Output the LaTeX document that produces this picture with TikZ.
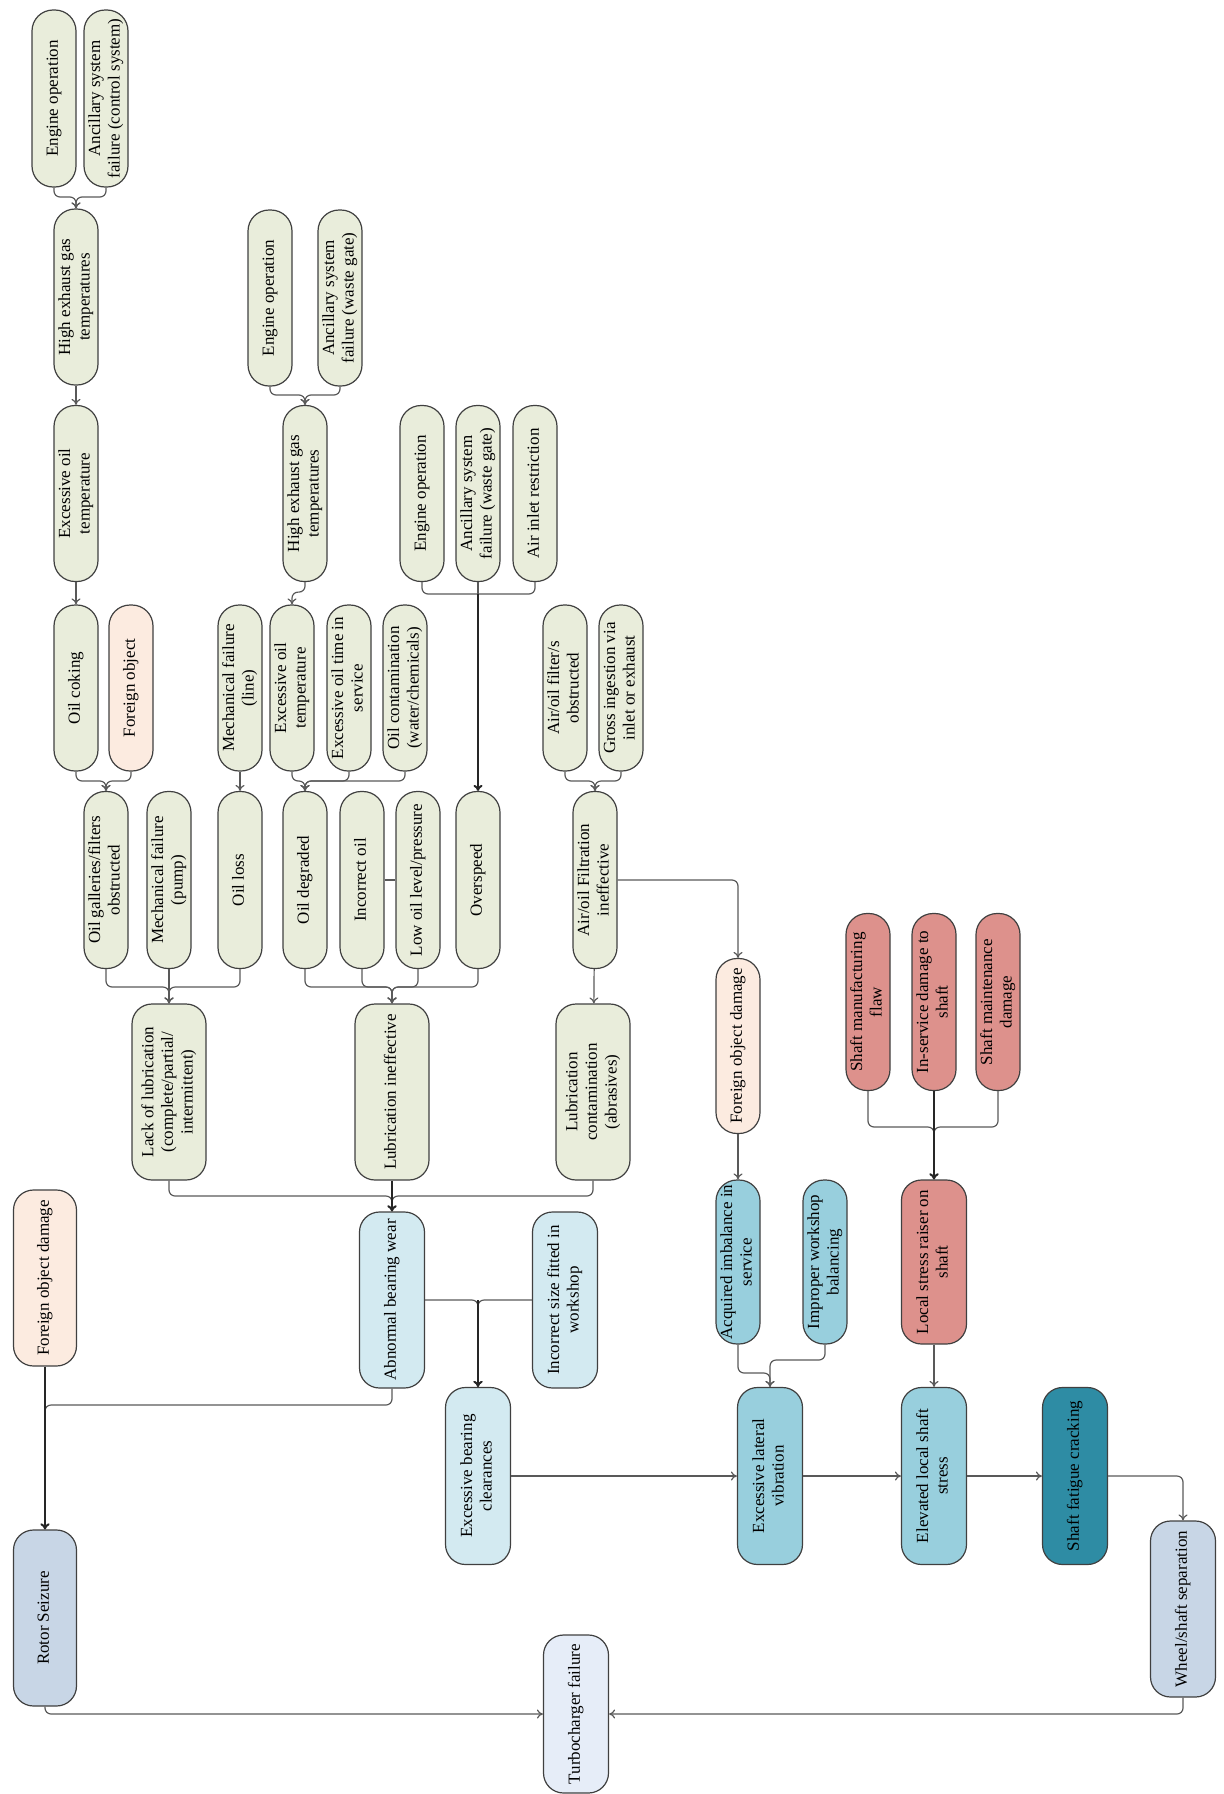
\documentclass[tikz,border=0pt]{standalone}
\usepackage{fontspec}
\setmainfont{Liberation Serif}
\usepackage{graphicx}
\usetikzlibrary{arrows.meta,calc}
\definecolor{cgreen}{HTML}{E9EDDB}
\definecolor{cpeach}{HTML}{FCEBE0}
\definecolor{clblue}{HTML}{D3EAF1}
\definecolor{cmblue}{HTML}{98CFDD}
\definecolor{cred}{HTML}{DD918C}
\definecolor{cteal}{HTML}{2E8CA4}
\definecolor{cgblue}{HTML}{C8D6E6}
\definecolor{cpale}{HTML}{E6EDF8}
\newcommand{\vtxt}[1]{\rotatebox{90}{\begin{tabular}{@{}c@{}}#1\end{tabular}}}
\tikzset{
  bx/.style={draw=black!75, line width=0.6pt, inner sep=0pt, font=\fontsize{8.5}{9.8}\selectfont},
  nar/.style={bx, rounded corners=10.5pt, minimum width=22pt},
  wid/.style={bx, rounded corners=10pt, minimum width=32.5pt},
  lub/.style={bx, rounded corners=10pt, minimum width=37pt},
  conn/.style={draw=black!65, line width=0.6pt, rounded corners=3pt},
  arr/.style={conn, -{To[length=3pt,width=4.5pt]}},
  thk/.style={draw=black!85, line width=1pt},
}
\begin{document}
\begin{tikzpicture}[x=0.5pt,y=-0.5pt]
\useasboundingbox (0,0) rectangle (1224,1794);
% Row A
\node[nar, fill=cgreen, minimum height=88.5pt] (eo1) at (54,98.5) {\vtxt{Engine operation}};
\node[nar, fill=cgreen, minimum height=88.5pt] (anc1) at (106,98.5) {\vtxt{Ancillary system\\failure (control system)}};
% Row B
\node[nar, fill=cgreen, minimum height=88pt] (heg1) at (76,297) {\vtxt{High exhaust gas\\temperatures}};
\node[nar, fill=cgreen, minimum height=88pt] (eo2) at (270,298) {\vtxt{Engine operation}};
\node[nar, fill=cgreen, minimum height=88pt] (anc2) at (340,298) {\vtxt{Ancillary system\\failure (waste gate)}};
% Row C
\node[nar, fill=cgreen, minimum height=88pt] (eot1) at (76,493.5) {\vtxt{Excessive oil\\temperature}};
\node[nar, fill=cgreen, minimum height=88pt] (heg2) at (305,493.5) {\vtxt{High exhaust gas\\temperatures}};
\node[nar, fill=cgreen, minimum height=88pt] (eo3) at (422,493.5) {\vtxt{Engine operation}};
\node[nar, fill=cgreen, minimum height=88pt] (anc3) at (478,493.5) {\vtxt{Ancillary system\\failure (waste gate)}};
\node[nar, fill=cgreen, minimum height=88pt] (air) at (535,493.5) {\vtxt{Air inlet restriction}};
% Row D
\node[nar, fill=cgreen, minimum height=83pt] (coke) at (76,688) {\vtxt{Oil coking}};
\node[nar, fill=cpeach, minimum height=83pt] (fo) at (131,688) {\vtxt{Foreign object}};
\node[nar, fill=cgreen, minimum height=83pt] (mfl) at (240,688) {\vtxt{Mechanical failure\\(line)}};
\node[nar, fill=cgreen, minimum height=83pt] (eot2) at (292,688) {\vtxt{Excessive oil\\temperature}};
\node[nar, fill=cgreen, minimum height=83pt] (eots) at (349,688) {\vtxt{Excessive oil time in\\service}};
\node[nar, fill=cgreen, minimum height=83pt] (ocon) at (405,688) {\vtxt{Oil contamination\\(water/chemicals)}};
\node[nar, fill=cgreen, minimum height=83pt] (aof) at (565,688) {\vtxt{Air/oil filter/s\\obstructed}};
\node[nar, fill=cgreen, minimum height=83pt] (gross) at (621,688) {\vtxt{Gross ingestion via\\inlet or exhaust}};
% Row E
\node[nar, fill=cgreen, minimum height=88.5pt] (gal) at (106,880) {\vtxt{Oil galleries/filters\\obstructed}};
\node[nar, fill=cgreen, minimum height=88.5pt] (mfp) at (169,880) {\vtxt{Mechanical failure\\(pump)}};
\node[nar, fill=cgreen, minimum height=88.5pt] (oloss) at (240,880) {\vtxt{Oil loss}};
\node[nar, fill=cgreen, minimum height=88.5pt] (odeg) at (305,880) {\vtxt{Oil degraded}};
\node[nar, fill=cgreen, minimum height=88.5pt] (inc) at (362,880) {\vtxt{Incorrect oil}};
\node[nar, fill=cgreen, minimum height=88.5pt] (low) at (418,880) {\vtxt{Low oil level/pressure}};
\node[nar, fill=cgreen, minimum height=88.5pt] (over) at (478,880) {\vtxt{Overspeed}};
\node[nar, fill=cgreen, minimum height=88.5pt] (filt) at (595,880) {\vtxt{Air/oil Filtration\\ineffective}};
% Row F
\node[lub, fill=cgreen, minimum height=88pt] (lack) at (169,1092) {\vtxt{Lack of lubrication\\(complete/partial/\\intermittent)}};
\node[lub, fill=cgreen, minimum height=88pt] (lubi) at (392,1092) {\vtxt{Lubrication ineffective}};
\node[lub, fill=cgreen, minimum height=88pt] (lubc) at (593,1092) {\vtxt{Lubrication\\contamination\\(abrasives)}};
\node[nar, fill=cpeach, minimum height=87.5pt] (fod2) at (738,1046) {\vtxt{Foreign object damage}};
\node[nar, fill=cred, minimum height=88.5pt] (smf) at (868,1002) {\vtxt{Shaft manufacturing\\flaw}};
\node[nar, fill=cred, minimum height=88.5pt] (isd) at (934,1002) {\vtxt{In-service damage to\\shaft}};
\node[nar, fill=cred, minimum height=88.5pt] (smd) at (998,1002) {\vtxt{Shaft maintenance\\damage}};
% Row G
\node[wid, fill=cpeach, minimum width=31.5pt, minimum height=88pt] (fod1) at (45,1278) {\vtxt{Foreign object damage}};
\node[wid, fill=clblue, minimum height=88pt] (abw) at (392,1300) {\vtxt{Abnormal bearing wear}};
\node[wid, fill=clblue, minimum height=88pt] (isz) at (565,1300) {\vtxt{Incorrect size fitted in\\workshop}};
\node[nar, fill=cmblue, minimum height=82pt] (acq) at (738,1262) {\vtxt{Acquired imbalance in\\service}};
\node[nar, fill=cmblue, minimum height=82pt] (imp) at (825,1262) {\vtxt{Improper workshop\\balancing}};
\node[wid, fill=cred, minimum height=82pt] (lsr) at (934,1262) {\vtxt{Local stress raiser on\\shaft}};
% Row H
\node[wid, fill=clblue, minimum height=88.5pt] (ebc) at (478,1476) {\vtxt{Excessive bearing\\clearances}};
\node[wid, fill=cmblue, minimum height=88.5pt] (elv) at (770,1476) {\vtxt{Excessive lateral\\vibration}};
\node[wid, fill=cmblue, minimum height=88.5pt] (els) at (934,1476) {\vtxt{Elevated local shaft\\stress}};
\node[wid, fill=cteal, minimum height=88.5pt] (sfc) at (1075,1476) {\vtxt{Shaft fatigue cracking}};
\node[wid, fill=cgblue, minimum width=31.5pt, minimum height=88pt] (rot) at (45,1618) {\vtxt{Rotor Seizure}};
\node[wid, fill=cgblue, minimum height=88pt] (wss) at (1183,1609) {\vtxt{Wheel/shaft separation}};
\node[wid, fill=cpale, minimum height=79pt] (tf) at (576,1714) {\vtxt{Turbocharger failure}};
% junctions
\coordinate (j1) at (76,197);
\coordinate (j2) at (106,781);
\coordinate (j3) at (305,395);
\coordinate (j4) at (305,781);
\coordinate (j5) at (478,594);
\coordinate (j6) at (595,781);
\coordinate (j7) at (169,987);
\coordinate (j8) at (392,987);
\coordinate (j9) at (934,1127);
\coordinate (j10) at (392,1196);
\coordinate (j11) at (478,1300);
\coordinate (j12) at (45,1405);
\coordinate (j13) at (770,1373);
\coordinate (j14) at (770,1360);
% connectors
\draw[arr] (eo1.south) |- (j1) -- (heg1.north);
\draw[arr] (anc1.south) |- (j1) -- (heg1.north);
\draw[arr] (heg1) -- (eot1);
\draw[arr] (eot1) -- (coke);
\draw[arr] (coke.south) |- (j2) -- (gal.north);
\draw[arr] (fo.south) |- (j2) -- (gal.north);
\draw[arr] (eo2.south) |- (j3) -- (heg2.north);
\draw[arr] (anc2.south) |- (j3) -- (heg2.north);
\draw[arr] (heg2.south) -- ++(0,10) -| (eot2.north);
\draw[arr] (mfl) -- (oloss);
\draw[arr] (eot2.south) |- (j4) -- (odeg.north);
\draw[arr] (eots.south) |- (j4) -- (odeg.north);
\draw[arr] (ocon.south) |- (j4) -- (odeg.north);
\draw[conn] (eo3.south) |- (j5);
\draw[conn] (air.south) |- (j5);
\draw[conn] (anc3.south) -- (j5);
\draw[arr, thk] (j5) -- (over.north);
\draw[arr] (aof.south) |- (j6) -- (filt.north);
\draw[arr] (gross.south) |- (j6) -- (filt.north);
\draw[arr] (gal.south) |- (j7) -- (lack.north);
\draw[arr] (oloss.south) |- (j7) -- (lack.north);
\draw[arr] (mfp.south) -- (lack.north);
\draw[conn] (inc.east) -- (low.west);
\draw[arr] (odeg.south) |- (j8) -- (lubi.north);
\draw[arr] (inc.south) |- (j8) -- (lubi.north);
\draw[arr] (low.south) |- (j8) -- (lubi.north);
\draw[arr] (over.south) |- (j8) -- (lubi.north);
\draw[arr] (filt) -- (lubc);
\draw[arr] (filt.east) -| (fod2.north);
\draw[arr] (fod2) -- (acq);
\draw[arr] (smf.south) |- (j9) -- (lsr.north);
\draw[arr] (smd.south) |- (j9) -- (lsr.north);
\draw[arr, thk] (isd.south) -- (lsr.north);
\draw[arr] (lack.south) |- (j10) -- (abw.north);
\draw[arr] (lubc.south) |- (j10) -- (abw.north);
\draw[arr, thk] (lubi.south) -- (abw.north);
\draw[arr] (abw.east) -| (ebc.north);
\draw[arr] (isz.west) -| (ebc.north);
\draw[arr, thk] (j11) -- (ebc.north);
\draw[arr] (abw.south) |- (j12) -- (rot.north);
\draw[arr, thk] (fod1.south) -- (rot.north);
\draw[arr] (rot.south) |- (tf.west);
\draw[arr] (wss.south) |- (tf.east);
\draw[arr] (ebc) -- (elv);
\draw[arr] (elv) -- (els);
\draw[arr] (els) -- (sfc);
\draw[arr] (sfc.east) -| (wss.north);
\draw[arr] (acq.south) |- (j13) -- (elv.north);
\draw[arr] (imp.south) |- (j14) -- (elv.north);
\draw[arr] (lsr) -- (els);
\end{tikzpicture}
\end{document}
